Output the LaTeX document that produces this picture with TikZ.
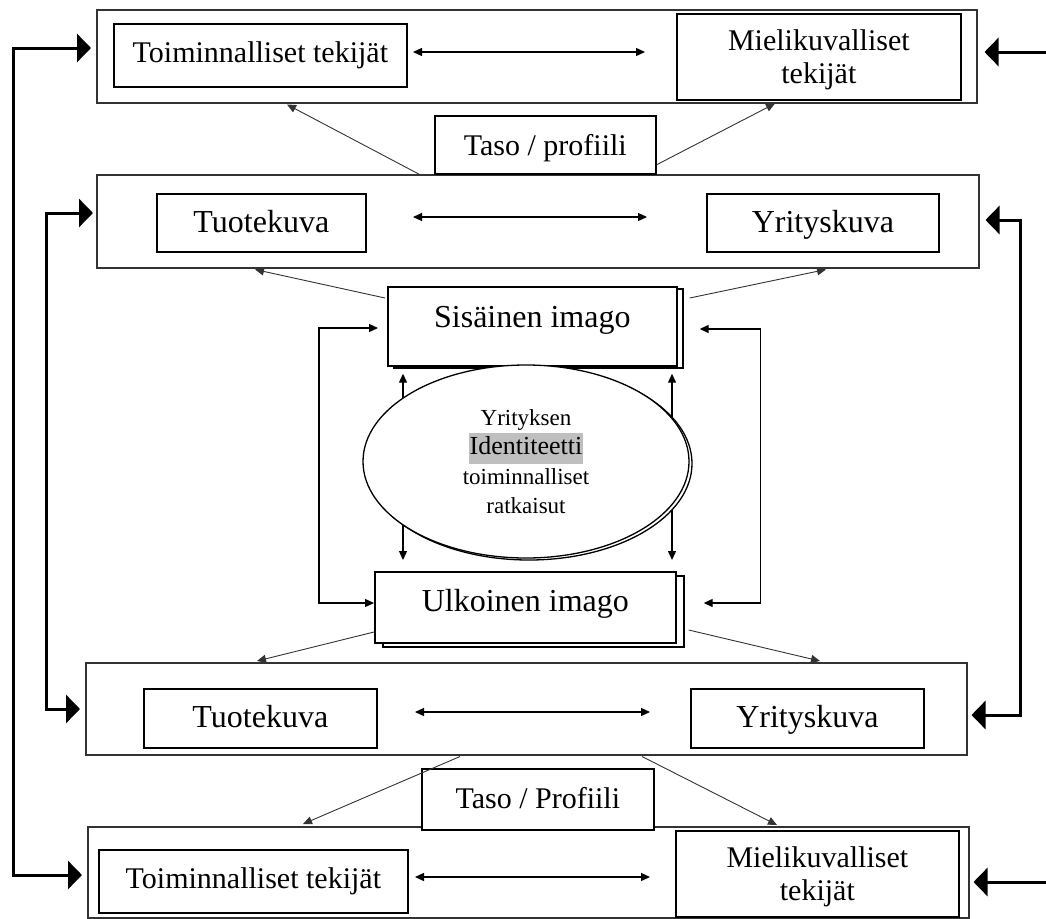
\documentclass[tikz,border=0pt]{standalone}
\usepackage{fontspec}
\setmainfont{Liberation Serif}
\usetikzlibrary{arrows.meta,calc,shapes.geometric,shadows}
\tikzset{
  outerbox/.style={draw=black!80, line width=1.5pt, fill=white, anchor=north west, inner sep=0pt},
  innerbox/.style={draw=black, line width=1.7pt, fill=white, anchor=north west, inner sep=0pt, align=center, font=\fontsize{30}{33}\selectfont},
  bigtxt/.style={font=\fontsize{32}{36}\selectfont},
  tb/.style 2 args={text height=#1pt, text depth=#2pt},
  thinone/.style={line width=1.3pt, -{Triangle[length=9pt,width=8pt]}},
  thinboth/.style={line width=1.3pt, {Triangle[length=9pt,width=8pt]}-{Triangle[length=9pt,width=8pt]}},
  slant/.style={line width=0.9pt, draw=black!80, -{Triangle[length=9pt,width=8pt]}},
  thickboth/.style={line width=3pt, {Triangle[length=14pt,width=28pt]}-{Triangle[length=14pt,width=28pt]}},
  thickone/.style={line width=3pt, -{Triangle[length=14pt,width=28pt]}},
}
\begin{document}
\begin{tikzpicture}[x=1pt,y=-1pt]
\useasboundingbox (0,0) rectangle (1046,918);

% outer rows
\node[outerbox, minimum width=880, minimum height=93] (R1) at (96,9) {};
\node[outerbox, minimum width=882, minimum height=93] (R2) at (96,174) {};
\node[outerbox, minimum width=881, minimum height=92] (R4) at (85,662) {};
\node[outerbox, minimum width=881, minimum height=91] (R5) at (87,826) {};

% inner boxes
\node[innerbox, tb={39}{24}, minimum width=293, minimum height=63] (T1) at (113,23) {Toiminnalliset tekijät};
\node[innerbox, tb={70}{16}, minimum width=284, minimum height=86] (M1) at (676,13) {Mielikuvalliset\\tekijät};
\node[innerbox, bigtxt, tb={39}{19}, minimum width=209, minimum height=58] (Tu2) at (156,193) {Tuotekuva};
\node[innerbox, bigtxt, tb={39}{19}, minimum width=232, minimum height=58] (Yr2) at (706,193) {Yrityskuva};
\node[innerbox, bigtxt, tb={39}{20}, minimum width=233, minimum height=59] (Tu4) at (143,688) {Tuotekuva};
\node[innerbox, bigtxt, tb={39}{20}, minimum width=233, minimum height=59] (Yr4) at (690,688) {Yrityskuva};
\node[innerbox, tb={39}{24}, minimum width=309, minimum height=63] (T5) at (98,849) {Toiminnalliset tekijät};
\node[innerbox, tb={70}{16}, minimum width=283, minimum height=86] (M5) at (675,830) {Mielikuvalliset\\tekijät};

% Taso boxes
\node[innerbox, tb={40}{18}, minimum width=221, minimum height=58] (Taso1) at (434,115) {Taso / profiili};
\node[innerbox, tb={40}{21}, minimum width=232, minimum height=61] (Taso2) at (421,768) {Taso / Profiili};

% horizontal double arrows in rows
\coordinate (d1a) at (413,52);  \coordinate (d1b) at (645,52);
\coordinate (d2a) at (413,217); \coordinate (d2b) at (647,217);
\coordinate (d4a) at (415,712); \coordinate (d4b) at (650,712);
\coordinate (d5a) at (415,877); \coordinate (d5b) at (650,877);
\draw[thinboth] (d1a) -- (d1b);
\draw[thinboth] (d2a) -- (d2b);
\draw[thinboth] (d4a) -- (d4b);
\draw[thinboth] (d5a) -- (d5b);

% image boxes
\node[innerbox, bigtxt, tb={41}{38}, minimum width=289, minimum height=79,
      copy shadow={shadow xshift=6pt, shadow yshift=-2pt}] (Sis) at (387,286) {Sisäinen imago};
\node[innerbox, bigtxt, tb={40}{31}, minimum width=301, minimum height=71,
      copy shadow={shadow xshift=8pt, shadow yshift=-4pt}] (Ulk) at (374,571) {Ulkoinen imago};

% vertical arrows between image boxes
\draw[thinboth] ($(Sis.south west)+(16,7)$) -- ($(Ulk.north west)+(29,-11)$);
\draw[thinboth] ($(Sis.south west)+(285,7)$) -- ($(Ulk.north west)+(298,-11)$);

% ellipse
\node[ellipse, draw, fill=white, line width=1.3pt, inner sep=0pt,
      minimum width=326, minimum height=193, align=center,
      font=\fontsize{23}{29.5}\selectfont,
      copy shadow={shadow xshift=3pt, shadow yshift=-2pt}] (E) at (526,461.5)
  {Yrityksen\\{\setlength{\fboxsep}{1pt}\colorbox{black!25}{\fontsize{26}{29}\selectfont\strut Identiteetti}}\\toiminnalliset\\ratkaisut};

% thin side loops
\coordinate (L1) at ($(Sis.north west)+(-9,42)$);
\coordinate (L2) at ($(Ulk.north west)+(0,32)$);
\coordinate (Q1) at ($(Sis.north east)+(22,43)$);
\coordinate (Q2) at ($(Ulk.north east)+(27,32)$);
\draw[thinboth] (L1) -- ++(-59,0) |- (L2);
\draw[thinboth] (Q1) -- ++(61,0) |- (Q2);

% slanted arrows
\draw[slant] ($(Taso1.south west)+(-14,0)$) -- ($(R1.south west)+(191,1)$);
\draw[slant] ($(Taso1.south east)+(0,-10)$) -- ($(R1.south west)+(679,0)$);
\draw[slant] ($(Sis.north west)+(-2,12)$) -- ($(R2.south west)+(159,1)$);
\draw[slant] ($(Sis.north east)+(12,12)$) -- ($(R2.south west)+(730,1)$);
\draw[slant] ($(Ulk.north west)+(0,61)$) -- ($(R4.north west)+(172,-1)$);
\draw[slant] ($(Ulk.north east)+(12,59)$) -- ($(R4.north west)+(735,-1)$);
\draw[slant] ($(R4.south west)+(375,1)$) -- ($(R5.north west)+(216,-2)$);
\draw[slant] ($(R4.south west)+(557,1)$) -- ($(R5.north west)+(690,-1)$);

% thick outer loops
\coordinate (A1) at ($(R1.north west)+(-5,39)$);
\coordinate (A5) at ($(R5.north west)+(-5,49)$);
\coordinate (B2) at ($(R2.north west)+(-3,39)$);
\coordinate (B4) at ($(R4.north west)+(-5,47)$);
\coordinate (C2) at ($(R2.north east)+(6,46)$);
\coordinate (C4) at ($(R4.north east)+(4,53)$);
\coordinate (D0) at (1046,52);
\coordinate (D1) at ($(R1.north east)+(7,43)$);
\coordinate (E0) at (1046,882);
\coordinate (E5) at ($(R5.north east)+(4,56)$);
\draw[thickboth] (A1) -- ++(-78,0) |- (A5);
\draw[thickboth] (B2) -- ++(-47,0) |- (B4);
\draw[thickboth] (C2) -- ++(35,0) |- (C4);
\draw[thickone] (D0) -- (D1);
\draw[thickone] (E0) -- (E5);
\end{tikzpicture}
\end{document}
